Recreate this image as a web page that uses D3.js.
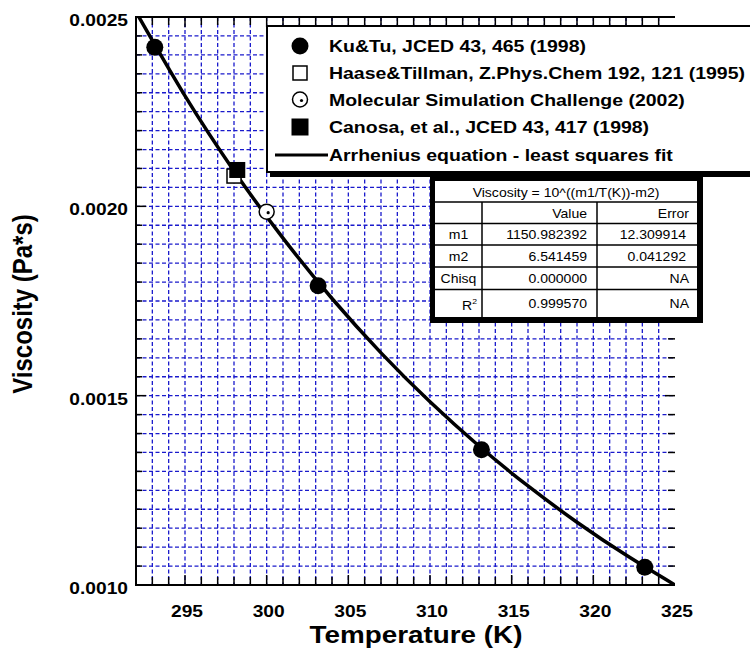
<!DOCTYPE html>
<html>
<head>
<meta charset="utf-8">
<script src="https://cdn.jsdelivr.net/npm/d3@7"></script>
<style>
  body { margin: 0; background: #fff; }
  svg { display: block; font-family: Arial, "Liberation Sans", sans-serif; }
</style>
</head>
<body>
<svg id="chart" width="750" height="657"></svg>
<script>
// Measured data (temperature in K, viscosity in Pa*s)
const kuTuT = [293.15, 303.15, 313.15, 323.15];
const kuTuVisc = [0.00242, 0.00179, 0.001357, 0.001047];
const haaseT = [298];
const haaseVisc = [0.00208];
const mscT = [300];
const mscVisc = [0.001986];
const canosaT = [298.2];
const canosaVisc = [0.002096];

// Fitted Arrhenius curve
const fitT = [292, 295, 298, 301, 304, 307, 310, 313, 316, 319, 322, 325];
const fitVisc = [0.0025134, 0.0022918, 0.0020936, 0.0019160, 0.0017566, 0.0016131,
                 0.0014838, 0.0013671, 0.0012615, 0.0011658, 0.0010790, 0.0010000];

const xTicks = [295, 300, 305, 310, 315, 320, 325];
const yTicks = [0.0010, 0.0015, 0.0020, 0.0025];

const legendLabels = [
  "Ku&Tu, JCED 43, 465 (1998)",
  "Haase&Tillman, Z.Phys.Chem 192, 121 (1995)",
  "Molecular Simulation Challenge (2002)",
  "Canosa, et al., JCED 43, 417 (1998)",
  "Arrhenius equation - least squares fit"
];

const tableTitle = "Viscosity = 10^((m1/T(K))-m2)";
const tableHeader = ["", "Value", "Error"];
const tableRows = [
  ["m1", "1150.982392", "12.309914"],
  ["m2", "6.541459", "0.041292"],
  ["Chisq", "0.000000", "NA"],
  ["R2", "0.999570", "NA"]
];

const svg = d3.select("#chart");
const SX = 1.13; // the original text is drawn a little wide

const x = d3.scaleLinear().domain([292, 325]).range([136, 675]);
const y = d3.scaleLinear().domain([0.0010, 0.0025]).range([585, 17]);

const gridBlue = "#1a1acc";

// stretched text helper
const stext = (g, px, py, str, size, weight, anchor, sx = SX) =>
  g.append("text")
    .attr("transform", `translate(${px},${py}) scale(${sx},1)`)
    .attr("text-anchor", anchor)
    .attr("font-size", size)
    .attr("font-weight", weight)
    .attr("fill", "#000")
    .text(str);

// Grid
const grid = svg.append("g").attr("class", "grid")
  .attr("stroke", gridBlue)
  .attr("stroke-width", 1.3)
  .attr("stroke-dasharray", "4,2.5");

grid.selectAll(".vgrid")
  .data(d3.range(293, 325))
  .join("line")
  .attr("x1", d => x(d)).attr("x2", d => x(d))
  .attr("y1", y(0.0025)).attr("y2", y(0.0010));

grid.selectAll(".hgrid")
  .data(d3.range(21, 50).map(i => i * 0.00005))
  .join("line")
  .attr("x1", x(292)).attr("x2", x(325))
  .attr("y1", d => y(d)).attr("y2", d => y(d));

// Ticks (all inward)
const ticks = svg.append("g").attr("stroke", "#000").attr("stroke-width", 1.5);
const kTicks = d3.range(293, 325);
const isMajorK = d => d % 5 === 0;
ticks.selectAll(".tb").data(kTicks).join("line")
  .attr("x1", d => x(d)).attr("x2", d => x(d))
  .attr("y1", y(0.0010)).attr("y2", d => y(0.0010) - (isMajorK(d) ? 10 : 8));
ticks.selectAll(".tt").data(kTicks).join("line")
  .attr("x1", d => x(d)).attr("x2", d => x(d))
  .attr("y1", y(0.0025)).attr("y2", d => y(0.0025) + (isMajorK(d) ? 10 : 8));
const vTicks = d3.range(21, 50).map(i => i * 0.00005);
const isMajorV = d => Math.abs(d * 2000 - Math.round(d * 2000)) < 1e-6;
ticks.selectAll(".tl").data(vTicks).join("line")
  .attr("x1", x(292)).attr("x2", d => x(292) + (isMajorV(d) ? 10 : 6))
  .attr("y1", d => y(d)).attr("y2", d => y(d));
ticks.selectAll(".tr").data(vTicks).join("line")
  .attr("x1", x(325)).attr("x2", d => x(325) - (isMajorV(d) ? 10 : 7))
  .attr("y1", d => y(d)).attr("y2", d => y(d));

// Axis lines: left, bottom, top
const frame = svg.append("g").attr("stroke", "#000").attr("stroke-width", 2).attr("fill", "none");
frame.append("path")
  .attr("d", `M${x(325)},${y(0.0025)}H${x(292)}V${y(0.0010)}H${x(325)}`);

// Tick labels
const xLab = svg.append("g");
xTicks.forEach(t => stext(xLab, x(t) + 2, y(0.0010) + 32, t, 17, "bold", "middle"));
const yLab = svg.append("g");
yTicks.forEach(v => stext(yLab, 128, y(v) + 9, d3.format(".4f")(v), 17, "bold", "end"));

// Axis titles
stext(svg, 416, 643, "Temperature (K)", 24, "bold", "middle", 1.16);
svg.append("text")
  .attr("transform", `translate(32,304) scale(${SX},1) rotate(-90)`)
  .attr("text-anchor", "middle")
  .attr("font-size", 24)
  .attr("font-weight", "bold")
  .text("Viscosity (Pa*s)");

// Clip for the curve
svg.append("clipPath").attr("id", "plot-clip")
  .append("rect")
  .attr("x", x(292)).attr("y", y(0.0025))
  .attr("width", x(325) - x(292)).attr("height", y(0.0010) - y(0.0025));

const line = d3.line()
  .x(d => x(d[0]))
  .y(d => y(d[1]))
  .curve(d3.curveNatural);

svg.append("path")
  .datum(fitT.map((t, i) => [t, fitVisc[i]]))
  .attr("clip-path", "url(#plot-clip)")
  .attr("fill", "none")
  .attr("stroke", "#000")
  .attr("stroke-width", 3.5)
  .attr("d", line);

// Markers
const markOpenSquare = (g, cx, cy, s) =>
  g.append("rect").attr("x", cx - s / 2).attr("y", cy - s / 2).attr("width", s).attr("height", s)
    .attr("fill", "#fff").attr("stroke", "#000").attr("stroke-width", 1.5);
const markFilledSquare = (g, cx, cy, s) =>
  g.append("rect").attr("x", cx - s / 2).attr("y", cy - s / 2).attr("width", s).attr("height", s)
    .attr("fill", "#000");
const markCircle = (g, cx, cy, r) =>
  g.append("circle").attr("cx", cx).attr("cy", cy).attr("r", r).attr("fill", "#000");
const markDotCircle = (g, cx, cy, r) => {
  g.append("circle").attr("cx", cx).attr("cy", cy).attr("r", r)
    .attr("fill", "#fff").attr("stroke", "#000").attr("stroke-width", 1.5);
  g.append("circle").attr("cx", cx + 1.5).attr("cy", cy + 1).attr("r", 1.6).attr("fill", "#000");
};

const marks = svg.append("g");
haaseT.forEach((t, i) => markOpenSquare(marks, x(t), y(haaseVisc[i]), 14));
canosaT.forEach((t, i) => markFilledSquare(marks, x(t), y(canosaVisc[i]), 16));
mscT.forEach((t, i) => markDotCircle(marks, x(t), y(mscVisc[i]), 7.5));
kuTuT.forEach((t, i) => markCircle(marks, x(t), y(kuTuVisc[i]), 8.5));

// Legend box (runs off the right edge)
const legend = svg.append("g");
legend.append("rect").attr("x", 270).attr("y", 29).attr("width", 500).attr("height", 148).attr("fill", "#000");
legend.append("rect").attr("x", 267).attr("y", 26).attr("width", 500).attr("height", 146)
  .attr("fill", "#fff").attr("stroke", "#000").attr("stroke-width", 2);

const legendY = [46, 73, 99.5, 127, 155];
const symX = 300;
markCircle(legend, symX, legendY[0], 8.5);
markOpenSquare(legend, symX, legendY[1], 14);
markDotCircle(legend, symX, legendY[2], 7.5);
markFilledSquare(legend, symX, legendY[3], 17);
legend.append("line").attr("x1", 275).attr("x2", 328)
  .attr("y1", legendY[4]).attr("y2", legendY[4])
  .attr("stroke", "#000").attr("stroke-width", 3);
legendLabels.forEach((s, i) => stext(legend, 329, legendY[i] + 6, s, 17, "bold", "start", 1.145));

// Fit result table
const table = svg.append("g");
table.append("rect").attr("x", 430).attr("y", 172).attr("width", 273).attr("height", 151).attr("fill", "#000");
table.append("rect").attr("x", 435).attr("y", 181).attr("width", 262).attr("height", 136).attr("fill", "#fff");

const colX = [435, 482, 597, 697];
const rowY = [181, 202, 223.5, 245, 267, 289.5, 317];
const cellLines = table.append("g").attr("stroke", "#000").attr("stroke-width", 1.5);
rowY.slice(1, -1).forEach(ry =>
  cellLines.append("line").attr("x1", colX[0]).attr("x2", colX[3]).attr("y1", ry).attr("y2", ry));
colX.slice(1, -1).forEach(cx =>
  cellLines.append("line").attr("x1", cx).attr("x2", cx).attr("y1", rowY[1]).attr("y2", rowY[6]));

stext(table, (colX[0] + colX[3]) / 2, 197, tableTitle, 13, "normal", "middle", 1.08);
stext(table, colX[2] - 10, rowY[1] + 16, tableHeader[1], 13, "normal", "end", 1.08);
stext(table, colX[3] - 8, rowY[1] + 16, tableHeader[2], 13, "normal", "end", 1.08);
tableRows.forEach((r, i) => {
  const by = (rowY[i + 2] + rowY[i + 3]) / 2 + 5;
  if (r[0] === "R2") {
    const t = stext(table, colX[1] - 5, by + 2, "R", 13, "normal", "end", 1.08);
    t.append("tspan").attr("dy", -6).attr("font-size", 8).text("2");
  } else {
    stext(table, (colX[0] + colX[1]) / 2, by, r[0], 13, "normal", "middle", 1.08);
  }
  stext(table, colX[2] - 10, by, r[1], 13, "normal", "end", 1.08);
  stext(table, colX[3] - (r[2] === "NA" ? 8 : 11), by, r[2], 13, "normal", "end", 1.08);
});
</script>
</body>
</html>
